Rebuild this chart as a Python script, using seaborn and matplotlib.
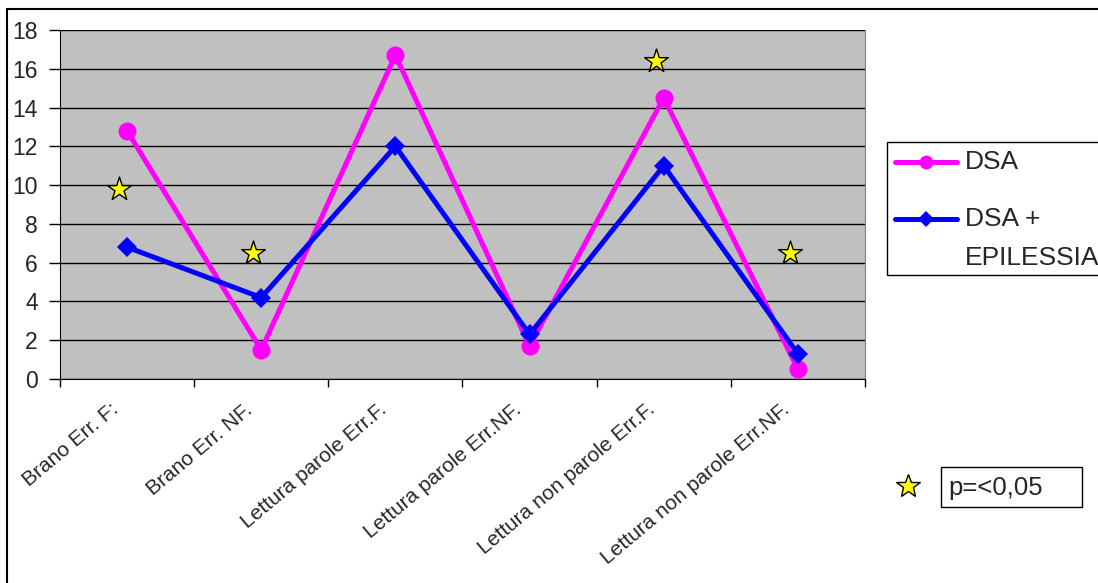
import matplotlib.pyplot as plt
import seaborn as sns
import numpy as np
from matplotlib.patches import Rectangle
from matplotlib.lines import Line2D
from matplotlib.transforms import ScaledTranslation

categories = ["Brano Err. F:", "Brano Err. NF.", "Lettura parole Err.F.",
              "Lettura parole Err.NF.", "Lettura non parole Err.F.",
              "Lettura non parole Err.NF."]
dsa = [12.8, 1.5, 16.7, 1.7, 14.5, 0.5]
dsa_epi = [6.8, 4.2, 12.0, 2.3, 11.0, 1.3]
star_cat = [0, 1, 4, 5]
star_y = [9.8, 6.5, 16.4, 6.5]

sns.set_style("white")
plt.rcParams["font.family"] = ["Liberation Sans", "DejaVu Sans"]

W, H = 1098, 583
fig = plt.figure(figsize=(W / 100, H / 100), dpi=100)
ax = fig.add_axes([60 / W, 1 - 379 / H, (865 - 60) / W, (379 - 30) / H])
ax.set_facecolor("#C0C0C0")

pink, blue = "#FF00FF", "#0000FF"
pos = np.arange(len(categories))
sns.lineplot(x=pos, y=dsa, ax=ax, color=pink, marker="o", markersize=13,
             markeredgewidth=0, linewidth=3.6)
sns.lineplot(x=pos, y=dsa_epi, ax=ax, color=blue, marker="D", markersize=10.5,
             markeredgewidth=0, linewidth=3.6)
sns.scatterplot(x=np.array(star_cat) - 0.06, y=star_y, ax=ax, marker="*", s=320,
                color="#FFFF00", edgecolor="black", linewidth=1, zorder=5)

ax.set_xlim(-0.5, len(categories) - 0.5)
ax.set_ylim(0, 18)
ax.set_yticks(range(0, 19, 2))
ax.yaxis.grid(True, color="black", linewidth=1)
ax.set_axisbelow(True)
ax.set_xticks(pos)
ax.set_xticklabels(categories, rotation=40, ha="right", rotation_mode="anchor")
ax.set_xticks(np.arange(-0.5, len(categories), 1), minor=True)
ax.tick_params(axis="x", which="major", length=0, pad=15, labelsize=15)
ax.tick_params(axis="x", which="minor", length=6, width=1, color="black", direction="out", bottom=True)
ax.tick_params(axis="y", length=8, width=1, color="black", direction="out", left=True,
               labelsize=16.5, pad=8)
for lab in ax.get_xticklabels():
    lab.set_transform(lab.get_transform() + ScaledTranslation(-0.17, 0, fig.dpi_scale_trans))
for side in ["left", "bottom"]:
    ax.spines[side].set_color("black")
ax.spines["right"].set_color("#808080")
ax.spines["top"].set_visible(False)

# legend box (drawn by hand so that the handle sits on the first text line)
ft = fig.transFigure
fig.add_artist(Rectangle((887 / W, 1 - 275 / H), 0.3, 133 / H, transform=ft,
                         fill=True, fc="white", ec="black", lw=1))
for yy, col, mk, ms in [(162, pink, "o", 10), (219, blue, "D", 8)]:
    fig.add_artist(Line2D([895 / W, 957 / W], [1 - yy / H] * 2, transform=ft, color=col,
                          lw=3.6, solid_capstyle="round"))
    fig.add_artist(Line2D([926 / W], [1 - yy / H], transform=ft, color=col, marker=mk,
                          markersize=ms, markeredgewidth=0, linestyle="none"))
fig.text(965 / W, 1 - 162 / H, "DSA", fontsize=19, va="center", ha="left")
fig.text(965 / W, 1 - 219 / H, "DSA +", fontsize=19, va="center", ha="left")
fig.text(965 / W, 1 - 258 / H, "EPILESSIA", fontsize=19, va="center", ha="left")

# significance key
fig.add_artist(Rectangle((941 / W, 1 - 507 / H), (1082 - 941) / W, 40 / H,
                         transform=ft, fill=False, ec="black", lw=1))
fig.text(948 / W, 1 - 488 / H, "p=<0,05", fontsize=18.5, va="center", ha="left")
fig.add_artist(Line2D([908 / W], [1 - 486 / H], transform=ft, marker="*",
                      markersize=18, markerfacecolor="#FFFF00", markeredgecolor="black",
                      markeredgewidth=1, linestyle="none"))

# outer chart frame
fig.add_artist(Rectangle((7 / W, -0.1), 1.2, 1.1 - 9 / H, transform=ft,
                         fill=False, ec="black", lw=1.5))

fig.savefig("out.png", dpi=100)
